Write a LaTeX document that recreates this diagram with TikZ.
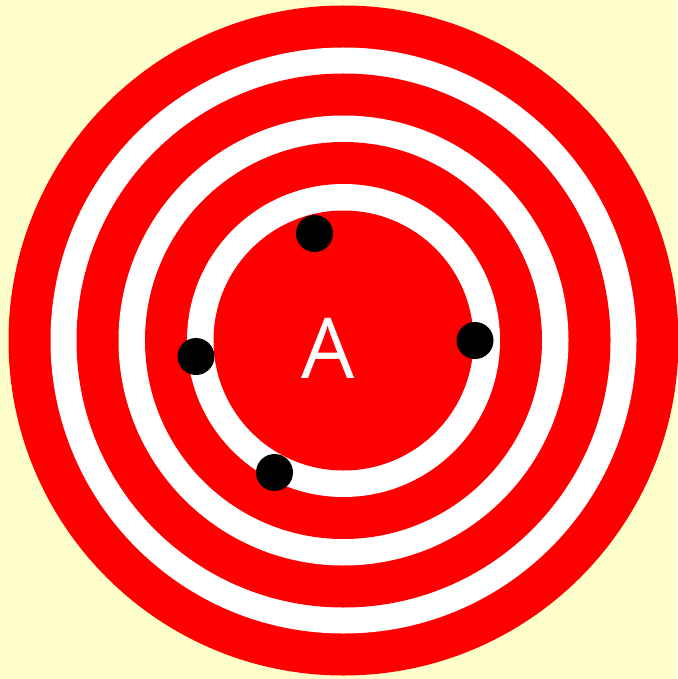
\documentclass[tikz,border=0pt]{standalone}
\usepackage{fontspec}
\setmainfont{Open Sans}
\definecolor{bgyellow}{RGB}{255,255,204}
\definecolor{tred}{RGB}{255,0,0}
\begin{document}
\begin{tikzpicture}[x=1pt,y=-1pt,
  ring/.style={draw=none},
  hole/.style={circle,fill=black,minimum size=37pt,inner sep=0pt},
  label/.style={text=white,font=\fontsize{84}{84}\selectfont,inner sep=0pt}]
\fill[bgyellow] (0,0) rectangle (677,679);
\useasboundingbox (0,0) rectangle (677,679);
\coordinate (c) at (343.5,340.5);
\fill[tred] (c) circle[radius=335];
\fill[white] (c) circle[radius=293];
\fill[tred] (c) circle[radius=267];
\fill[white] (c) circle[radius=225];
\fill[tred] (c) circle[radius=198.5];
\fill[white] (c) circle[radius=156.5];
\fill[tred] (c) circle[radius=130];
\node[label,anchor=base] (txt) at (328,378) {A};
\node[hole] (d1) at (314.5,233.5) {};
\node[hole] (d2) at (475,340.5) {};
\node[hole] (d3) at (196,356.5) {};
\node[hole] (d4) at (274.5,472.5) {};
\end{tikzpicture}
\end{document}
